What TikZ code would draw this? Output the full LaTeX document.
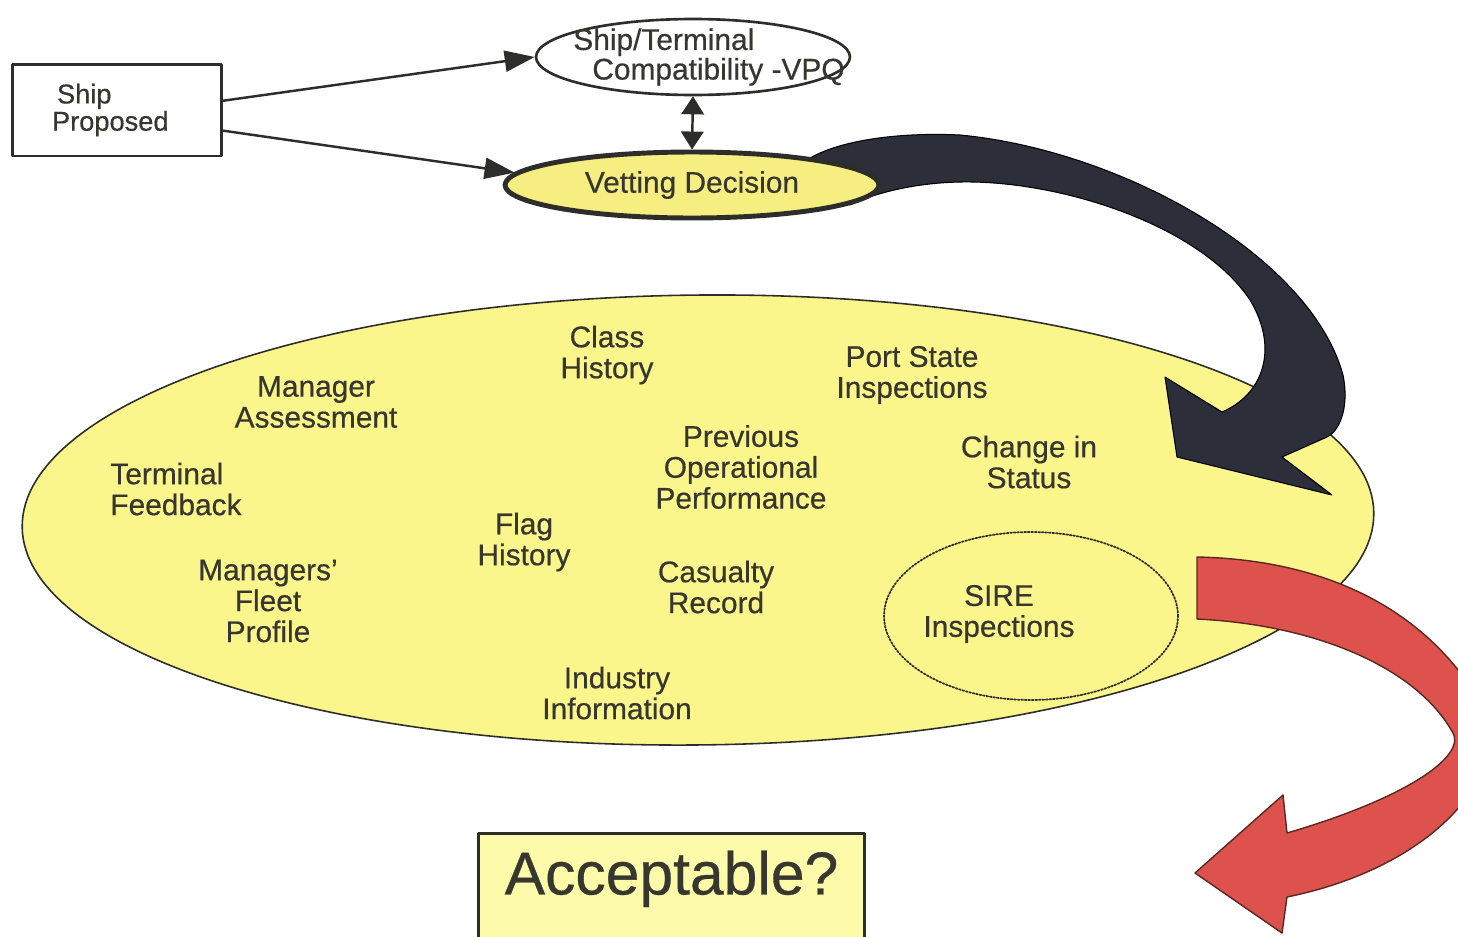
\documentclass[tikz,border=0pt]{standalone}
\usepackage{fontspec}
\setmainfont{Liberation Sans}[FakeBold=0.5]
\usepackage{tikz}
\usepackage{xcolor}
\usetikzlibrary{arrows}
\usetikzlibrary{arrows.meta,shapes.geometric}
\definecolor{ellyellow}{RGB}{251,246,140}
\definecolor{vetyellow}{RGB}{246,238,128}
\definecolor{accyellow}{RGB}{253,250,170}
\definecolor{txtgray}{RGB}{55,55,48}
\definecolor{linegray}{RGB}{45,45,42}
\definecolor{navyarrow}{RGB}{44,46,58}
\definecolor{arrowred}{RGB}{221,82,76}
\definecolor{redline}{RGB}{90,40,35}

\begin{document}
\begin{tikzpicture}[line cap=round,line join=round,x=0.02cm,y=-0.02cm,
    >={Triangle[length=0.6cm,width=0.42cm]},
    lbl/.style={font=\fontsize{17}{17.6}\selectfont,text=txtgray,align=center,inner sep=0pt}]
    \useasboundingbox (0,0) rectangle (1458,937);
    \clip (0,0) rectangle (1458,937);
    % big ellipse with the sources
    \draw [line width=0.9pt,draw=linegray,fill=ellyellow,rotate around={0.6:(698,520)}] (698,520) ellipse [x radius=13.52cm,y radius=4.5cm];
    \draw [line width=1pt,densely dotted,draw=linegray] (1031,616) ellipse [x radius=2.94cm,y radius=1.68cm];
    \node[lbl] (cls) at (607,355) {Class\\History};
    \node[lbl] (mgr) at (316,402) {Manager\\Assessment};
    \node[lbl] (psc) at (912,375) {Port State\\Inspections};
    \node[lbl] (prev) at (741,467) {Previous\\Operational\\Performance};
    \node[lbl] (chg) at (1029,462) {Change in\\Status};
    \node[lbl,align=left,anchor=west] (term) at (110,489) {Terminal\\Feedback};
    \node[lbl] (flag) at (524,542) {Flag\\History};
    \node[lbl] (fleet) at (268,601) {Managers'\\Fleet\\Profile};
    \node[lbl] (cas) at (716,587) {Casualty\\Record};
    \node[lbl] (sire) at (999,614) {SIRE\\Inspections};
    \node[lbl] (ind) at (617,693) {Industry\\Information};
    % dark curved arrow
    \filldraw [fill=navyarrow,draw=black,line width=0.6pt] (800,165) .. controls (830,140) and (900,132) .. (960,135)
        .. controls (1120,150) and (1310,255) .. (1343,375) .. controls (1350,410) and (1338,432) .. (1327,437)
        -- (1282,457) -- (1332,495) -- (1177,457) -- (1165,377) -- (1222,412)
        .. controls (1262,395) and (1280,350) .. (1250,300) .. controls (1200,225) and (1060,180) .. (960,182)
        .. controls (910,183) and (870,195) .. (850,205) -- cycle;
    % top part
    \node[draw=linegray,line width=1.7pt,fill=white,minimum height=1.84cm,text width=2.6cm,inner xsep=0.8cm,align=left,
        font=\fontsize{15.5}{15.5}\selectfont,text=txtgray] (ship) at (117,110) {\hspace*{0.1cm}Ship\\Proposed};
    \node[ellipse,draw=linegray,line width=1.5pt,fill=white,minimum width=6.28cm,minimum height=1.52cm] (vpq) at (693,57) {};
    \node[lbl,align=left,anchor=west,font=\fontsize{17}{15.5}\selectfont] (vpqtxt) at (573,57) {Ship/Terminal\\\hspace*{0.38cm}Compatibility -VPQ};
    \node[ellipse,draw=linegray,line width=2.8pt,fill=vetyellow,minimum width=7.48cm,minimum height=1.32cm,lbl] (vet) at (692,185) {Vetting Decision};
    \draw [->,line width=1.4pt,draw=linegray] (ship.5) -- (vpq.west);
    \draw [->,line width=1.4pt,draw=linegray] (ship.-11) -- (vet.176);
    \draw [{Triangle[length=0.36cm,width=0.45cm]}-{Triangle[length=0.36cm,width=0.45cm]},line width=1.4pt,draw=linegray] (vpq.south) -- (vet.north);
    % red curved arrow
    \filldraw [fill=arrowred,draw=redline,line width=0.8pt] (1197,557) .. controls (1340,560) and (1440,620) .. (1490,720)
        .. controls (1500,790) and (1420,870) .. (1287,897) -- (1282,933) -- (1195,873) -- (1283,795) -- (1287,833)
        .. controls (1400,800) and (1462,760) .. (1454,735) .. controls (1420,670) and (1320,625) .. (1197,619) -- cycle;
    % result box
    \node[draw=linegray,line width=1.7pt,fill=accyellow,anchor=north,minimum width=7.74cm,inner ysep=0pt,
        text height=1.22cm,text depth=1.2cm,font=\fontsize{34.5}{36}\selectfont,text=txtgray] (acc) at (671.5,832) {Acceptable?};
\end{tikzpicture}
\end{document}
